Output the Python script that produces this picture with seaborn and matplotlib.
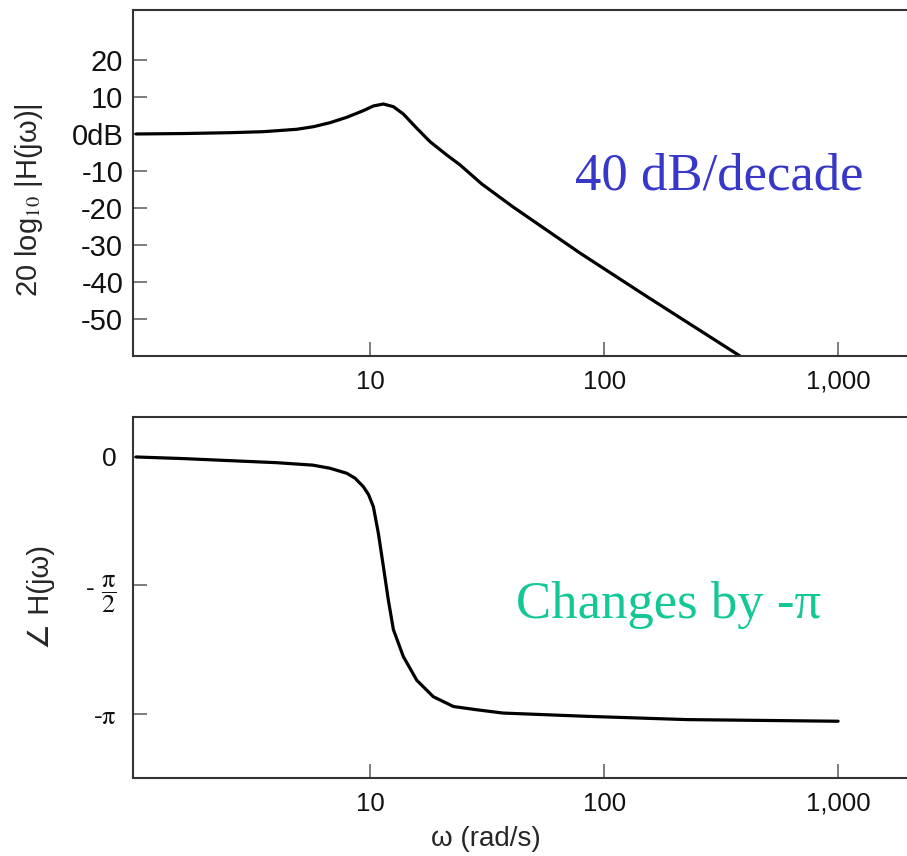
import numpy as np
import pandas as pd
import matplotlib
matplotlib.use("Agg")
import matplotlib.pyplot as plt
import seaborn as sns

# values
omega_mag = [1, 1.6, 2.52, 3.5, 4.86, 5.73, 6.74, 7.95, 9.36, 10.33, 11.4,
             12.58, 13.87, 15.84, 18.04, 21.27, 24.26, 30.0, 40.8, 79.0,
             153.0, 381.0]
mag_db = [0.0, 0.12, 0.35, 0.62, 1.27, 1.97, 3.05, 4.51, 6.3, 7.57, 8.1,
          7.38, 5.4, 1.54, -2.08, -5.68, -8.38, -13.5, -19.7, -32.2,
          -44.0, -60.0]

omega_phase = [1, 1.6, 2.52, 4.0, 5.7, 6.74, 7.95, 8.63, 9.36, 9.85, 10.33,
               10.85, 11.4, 11.97, 12.58, 13.87, 15.84, 18.63, 22.71, 28.6,
               37.0, 84.5, 226.0, 1000.0]
phase_rad = [0.0, -0.02, -0.045, -0.07, -0.10, -0.138, -0.199, -0.26, -0.363,
             -0.46, -0.608, -0.933, -1.34, -1.75, -2.11, -2.44, -2.73, -2.93,
             -3.05, -3.09, -3.13, -3.17, -3.21, -3.23]

x_ticks = [10, 100, 1000]
x_tick_labels = ["10", "100", "1,000"]
mag_ticks = [20, 10, 0, -10, -20, -30, -40, -50]
mag_tick_labels = ["20", "10", "0dB", "-10", "-20", "-30", "-40", "-50"]
phase_ticks = [0, -np.pi / 2, -np.pi]
phase_tick_labels = ["0", r"- $\dfrac{\mathrm{π}}{2}$", r"-$\mathrm{π}$"]

sns.set_theme(style="ticks")
plt.rcParams["font.family"] = ["Liberation Sans", "DejaVu Sans"]
plt.rcParams["mathtext.fontset"] = "stix"

fig = plt.figure(figsize=(9.07, 8.56), dpi=100)
ax1 = fig.add_axes([0.1466, 0.5841, 0.8534, 0.4042])
ax2 = fig.add_axes([0.1466, 0.0911, 0.8534, 0.4218])

mag_df = pd.DataFrame({"omega": omega_mag, "db": mag_db})
phase_df = pd.DataFrame({"omega": omega_phase, "phase": phase_rad})

sns.lineplot(data=mag_df, x="omega", y="db", ax=ax1, color="black",
             linewidth=2.3, estimator=None, sort=False)
sns.lineplot(data=phase_df, x="omega", y="phase", ax=ax2, color="black",
             linewidth=2.3, estimator=None, sort=False)

for ax in (ax1, ax2):
    ax.set_xscale("log")
    ax.set_xlim(0.97, 1970)
    ax.set_xticks(x_ticks)
    ax.set_xticklabels(x_tick_labels, fontsize=18.5, color="#111111")
    ax.xaxis.set_minor_locator(matplotlib.ticker.NullLocator())
    ax.tick_params(axis="both", direction="in", length=10, width=1.2,
                   color="#666666")
    ax.tick_params(axis="x", pad=10)
    ax.spines["right"].set_visible(False)
    for s in ("top", "left", "bottom"):
        ax.spines[s].set_linewidth(1.5)
        ax.spines[s].set_color("#333333")
    ax.set_xlabel("")
    ax.set_ylabel("")

ax1.set_ylim(-60, 33.5)
ax1.set_yticks(mag_ticks)
ax1.set_yticklabels(mag_tick_labels, fontsize=21, color="#111111")
ax1.tick_params(axis="y", pad=7)
ax1.set_ylabel(r"20 log$_{10}$ |H(jω)|", fontsize=21)
ax1.yaxis.set_label_coords(-0.114, 0.45)

ax2.set_ylim(-3.924, 0.489)
ax2.set_yticks(phase_ticks)
ax2.set_yticklabels(phase_tick_labels, fontsize=19, color="#111111")
ax2.tick_params(axis="y", pad=12)
ax2.set_ylabel("∠ H(jω)", fontsize=21)
ax2.yaxis.set_label_coords(-0.101, 0.5)
ax2.set_xlabel("ω (rad/s)", fontsize=20)
ax2.xaxis.set_label_coords(0.456, -0.133)

ax1.text(0.758, 0.48, "40 dB/decade", transform=ax1.transAxes, ha="center",
         va="baseline", fontsize=38, color="#3838C8", family="Liberation Serif")
ax2.text(0.6925, 0.443, "Changes by -π", transform=ax2.transAxes, ha="center",
         va="baseline", fontsize=38, color="#14C896", family="Liberation Serif")

fig.savefig("out.png", dpi=100)
